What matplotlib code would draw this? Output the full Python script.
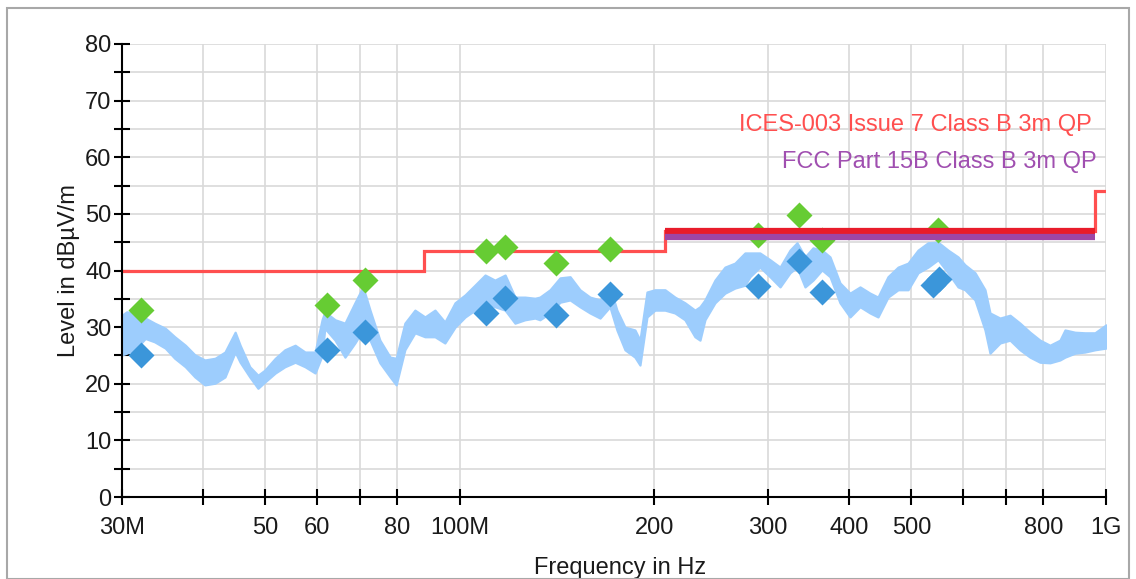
import matplotlib
matplotlib.use('Agg')
import matplotlib.pyplot as plt
from matplotlib.patches import Rectangle
from matplotlib.ticker import FixedLocator, FixedFormatter, NullFormatter

plt.rcParams['font.family'] = ['Liberation Sans', 'DejaVu Sans']

# --- Spectrum trace (envelope), MHz / dBuV/m ---
trace_freq = [30.0, 30.5, 31.4, 32.6, 33.7, 35.0, 36.2, 37.6, 38.9, 40.3, 41.8, 43.3, 44.9, 45.7,
              47.3, 48.7, 49.9, 51.8, 53.6, 55.6, 57.6, 59.7, 61.2, 61.8, 64.1, 66.4, 68.8, 70.8,
              72.6, 75.2, 78.0, 79.7, 82.2, 85.2, 88.3, 91.5, 94.8, 98.3, 101.9, 105.5, 109.4,
              113.3, 117.5, 121.7, 126.1, 130.7, 133.0, 137.9, 142.9, 148.1, 153.4, 159.0, 164.8,
              170.7, 175.0, 180.1, 186.6, 190.0, 194.8, 200.4, 207.7, 215.2, 223.0, 231.1, 235.3,
              239.5, 248.2, 257.2, 266.5, 276.2, 281.1, 291.3, 302.0, 313.0, 324.3, 332.5, 342.1,
              352.0, 363.4, 374.0, 387.5, 401.6, 416.2, 431.3, 443.7, 459.8, 476.6, 493.9, 511.8,
              530.4, 549.6, 569.5, 590.2, 605.0, 627.0, 649.7, 661.4, 685.4, 710.3, 736.0, 762.7,
              790.3, 819.0, 848.7, 864.0, 895.3, 927.7, 961.4, 1000.0]
trace_upper = [32.1, 32.7, 32.5, 31.6, 30.7, 29.8, 28.3, 26.8, 25.1, 24.2, 24.5, 25.6, 29.1, 26.8,
               23.0, 21.5, 22.4, 24.5, 26.0, 26.8, 25.6, 25.6, 31.3, 32.7, 31.3, 30.7, 34.3, 37.1,
               33.0, 27.7, 24.7, 24.5, 30.7, 33.0, 31.8, 33.0, 30.9, 34.3, 35.7, 37.4, 39.2,
               38.3, 39.2, 35.3, 35.3, 35.1, 35.3, 36.6, 38.7, 38.9, 36.6, 35.3, 34.8,
               37.1, 33.0, 30.0, 29.5, 27.7, 36.2, 36.6, 36.6, 35.3, 34.3, 33.0, 33.6,
               34.8, 38.3, 40.6, 41.3, 43.1, 43.1, 43.1, 41.9, 40.6, 43.6, 44.9, 42.4,
               44.0, 43.6, 42.4, 37.8, 36.0, 37.1, 36.0, 35.3, 38.9, 40.6, 41.3, 43.6,
               44.9, 45.0, 43.6, 42.4, 41.0, 39.6, 36.6, 32.5, 31.6, 32.1, 30.7, 29.1,
               27.7, 26.8, 27.7, 29.5, 29.1, 29.0, 29.0, 30.4]
trace_lower = [25.1, 25.4, 26.0, 28.0, 27.4, 26.3, 24.5, 23.0, 21.2, 19.8, 20.1, 21.2, 25.6, 23.8,
               21.2, 19.2, 20.3, 21.9, 23.0, 23.8, 23.0, 21.9, 25.0, 29.8, 27.7, 24.7, 27.2, 29.5,
               27.7, 23.7, 21.2, 19.8, 26.0, 29.0, 28.3, 28.3, 27.2, 30.0, 31.8, 33.0, 34.3,
               33.6, 33.0, 30.7, 31.3, 31.6, 31.3, 32.5, 34.4, 34.8, 33.6, 32.5, 31.6,
               33.6, 29.5, 26.0, 24.7, 23.3, 31.8, 33.0, 33.0, 32.5, 31.3, 28.3, 27.7,
               31.3, 34.3, 36.0, 36.9, 37.4, 38.9, 40.6, 38.9, 37.1, 39.6, 40.6, 37.1,
               38.3, 40.1, 38.9, 34.3, 31.8, 33.6, 32.5, 31.8, 35.3, 36.6, 36.6, 39.6,
               40.6, 41.9, 39.6, 37.1, 36.6, 34.8, 29.5, 25.4, 27.2, 27.7, 26.0, 24.7,
               23.8, 23.7, 24.2, 24.7, 25.4, 25.6, 26.0, 26.3]

# --- Peak (green) and final (blue) measurements ---
pk_freq = [32.1, 62.3, 71.3, 109.8, 117.5, 140.9, 170.7, 289.3, 334.9, 363.4, 549.6]
pk_level = [33.0, 33.9, 38.3, 43.4, 44.2, 41.3, 43.8, 46.3, 49.8, 45.4, 47.2]
qp_freq = [32.1, 62.3, 71.3, 109.8, 117.5, 140.9, 170.7, 289.3, 334.9, 363.4, 539.8, 551.5]
qp_level = [25.1, 26.0, 29.1, 32.5, 35.1, 32.1, 35.9, 37.3, 41.7, 36.2, 37.4, 38.5]

# --- Limit lines ---
ices_edges = [30, 88, 208, 960, 1000]
ices_levels = [40, 43.5, 47, 54]
fcc_edges = [208, 960]
fcc_levels = [46]

xtick_pos = [30, 40, 50, 60, 70, 80, 100, 200, 300, 400, 500, 600, 700, 800, 1000]
xtick_lab = ['30M', '', '50', '60', '', '80', '100M', '200', '300', '400', '500', '', '', '800', '1G']

fig = plt.figure(figsize=(11.36, 5.79), dpi=100)
ax = fig.add_axes([122 / 1136, 1 - 497 / 579, 984 / 1136, 453 / 579])

fig.patches.append(Rectangle((7 / 1136, 0.5 / 579), 1122 / 1136, 571 / 579, transform=fig.transFigure,
                             fill=False, edgecolor='#a8a8a8', lw=1.5))

# trace band, edge line makes the noisy envelope look a bit fuller
ax.fill_between(trace_freq, trace_lower, trace_upper, facecolor='#9dcdfd', edgecolor='#9dcdfd',
                lw=1.6, zorder=2)

ax.stairs(ices_levels, ices_edges, baseline=None, color='#ff4f4f', lw=2.3, zorder=3)
ax.plot(pk_freq, pk_level, 'D', color='#66cc33', ms=13, mec='none', zorder=4)
ax.plot(qp_freq, qp_level, 'D', color='#3b96da', ms=13, mec='none', zorder=4)
ax.stairs(ices_levels[2:3], ices_edges[2:4], baseline=None, color='#e81c2a', lw=4.5, zorder=5)
ax.stairs(fcc_levels, fcc_edges, baseline=None, color='#9d46a6', lw=4.5, zorder=5)

ax.text(0.986, 0.821, 'ICES-003 Issue 7 Class B 3m QP', color='#ff4f4f', fontsize=17,
        ha='right', va='center', transform=ax.transAxes)
ax.text(0.990, 0.7395, 'FCC Part 15B Class B 3m QP', color='#a04fb0', fontsize=17,
        ha='right', va='center', transform=ax.transAxes)

ax.set_xscale('log')
ax.set_xlim(30, 1000)
ax.set_ylim(0, 80)
ax.xaxis.set_major_locator(FixedLocator(xtick_pos))
ax.xaxis.set_major_formatter(FixedFormatter(xtick_lab))
ax.xaxis.set_minor_locator(FixedLocator([]))
ax.xaxis.set_minor_formatter(NullFormatter())
ax.set_yticks(range(0, 81, 5))
ax.set_yticklabels([str(v) if v % 10 == 0 else '' for v in range(0, 81, 5)])

ax.grid(True, color='#d9d9d9', lw=1.2, zorder=0)
ax.set_axisbelow(True)
for s in ['top', 'right']:
    ax.spines[s].set_visible(False)
for s in ['left', 'bottom']:
    ax.spines[s].set_linewidth(1.5)
    ax.spines[s].set_zorder(6)
ax.tick_params(direction='inout', length=11, width=1.5, labelsize=17, labelcolor='#1a1a1a')
ax.tick_params(axis='y', pad=2)
ax.tick_params(axis='x', pad=9)

ax.set_xlabel('Frequency in Hz', fontsize=17, color='#1a1a1a')
ax.set_ylabel('Level in dBµV/m', fontsize=17, color='#1a1a1a')
ax.xaxis.set_label_coords(0.506, -0.133)
ax.yaxis.set_label_coords(-0.043, 0.5)

fig.savefig('out.png', dpi=100)
